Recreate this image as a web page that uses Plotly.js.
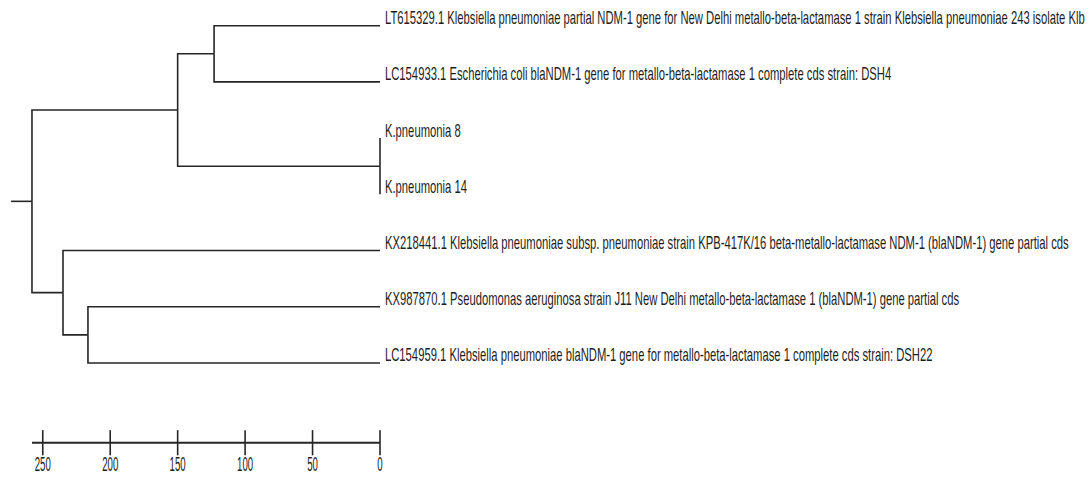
<!DOCTYPE html>
<html>
<head>
<meta charset="utf-8">
<script src="https://cdn.plot.ly/plotly-3.0.1.min.js"></script>
<style>
html,body{margin:0;padding:0;background:#fff;}
#chart{width:1089px;height:479px;}
</style>
</head>
<body>
<div id="chart"></div>
<script>
// ---- data ----
var leafNames = [
  "LT615329.1 Klebsiella pneumoniae partial NDM-1 gene for New Delhi metallo-beta-lactamase 1 strain Klebsiella pneumoniae 243 isolate Klb",
  "LC154933.1 Escherichia coli blaNDM-1 gene for metallo-beta-lactamase 1 complete cds strain: DSH4",
  "K.pneumonia 8",
  "K.pneumonia 14",
  "KX218441.1 Klebsiella pneumoniae subsp. pneumoniae strain KPB-417K/16 beta-metallo-lactamase NDM-1 (blaNDM-1) gene partial cds",
  "KX987870.1 Pseudomonas aeruginosa strain J11 New Delhi metallo-beta-lactamase 1 (blaNDM-1) gene partial cds",
  "LC154959.1 Klebsiella pneumoniae blaNDM-1 gene for metallo-beta-lactamase 1 complete cds strain: DSH22"
];
var leafHeights = [0, 0, 0, 0, 0, 0, 0];
// internal nodes; children: "L<i>" leaf or "N<i>" node
var nodeChildren = [
  ["L0", "L1"],  // N0
  ["L2", "L3"],  // N1
  ["N0", "N1"],  // N2
  ["L5", "L6"],  // N3
  ["L4", "N3"],  // N4
  ["N2", "N4"]   // N5 root
];
var nodeHeights = [123, 0, 150, 216.5, 235, 258];
var rootStubEnd = 273.5;
var scaleTicks = [250, 200, 150, 100, 50, 0];
var scaleTickLabels = ["250", "200", "150", "100", "50", "0"];
var scaleStart = 258;

// ---- build tree segments ----
function info(id) {
  var k = +id.slice(1);
  if (id[0] === "L") return {x: leafHeights[k], y: k};
  var a = info(nodeChildren[k][0]), b = info(nodeChildren[k][1]);
  return {x: nodeHeights[k], y: (a.y + b.y) / 2, a: a, b: b};
}
var segX = [], segY = [];
function draw(n) {
  if (!n.a) return;
  [n.a, n.b].forEach(function (c) {
    segX.push(n.x, n.x, c.x, null);
    segY.push(n.y, c.y, c.y, null);
    draw(c);
  });
}
var root = info("N" + (nodeChildren.length - 1));
draw(root);
segX.push(rootStubEnd, root.x, null);
segY.push(root.y, root.y, null);

var rows = leafNames.map(function (_, i) { return i; });
var scaleRow = 7.42, labelRow = 7.835;

var traces = [
  {x: segX, y: segY, mode: "lines", line: {color: "#262626", width: 1.6}, hoverinfo: "skip"},
  {x: leafHeights, y: rows, mode: "text", text: leafNames, textposition: "top right",
   textfont: {family: "Liberation Sans, Arial, sans-serif", size: 18, color: "#1e1e1e"}, hoverinfo: "skip"},
  {x: [scaleStart, 0], y: [scaleRow, scaleRow], mode: "lines", line: {color: "#262626", width: 1.8}, hoverinfo: "skip"},
  {x: scaleTicks, y: scaleTicks.map(function () { return scaleRow; }), mode: "markers",
   marker: {symbol: "line-ns", size: 18, line: {color: "#262626", width: 1.6}}, hoverinfo: "skip"},
  {x: scaleTicks, y: scaleTicks.map(function () { return labelRow; }), mode: "text", text: scaleTickLabels,
   textposition: "middle center", textfont: {family: "Liberation Sans, Arial, sans-serif", size: 21, color: "#1e1e1e"}, hoverinfo: "skip"}
];

var layout = {
  width: 1089, height: 479,
  margin: {l: 0, r: 0, t: 0, b: 0},
  paper_bgcolor: "#fff", plot_bgcolor: "#fff",
  showlegend: false,
  xaxis: {range: [281.7, -525.6], visible: false, fixedrange: true},
  yaxis: {range: [8.065, -0.457], visible: false, fixedrange: true}
};

Plotly.newPlot("chart", traces, layout, {staticPlot: true, responsive: false}).then(function (gd) {
  var groups = gd.querySelectorAll(".scatterlayer .trace");
  function squeeze(trace, sx, origin, shift) {
    trace.querySelectorAll("text").forEach(function (t) {
      t.style.transformBox = "fill-box";
      t.style.transformOrigin = origin;
      t.style.transform = "translate(" + shift + ") scaleX(" + sx + ")";
    });
  }
  squeeze(groups[1], 0.625, "left center", "5px, 3px");
  squeeze(groups[4], 0.46, "center center", "0px, 0px");
});
</script>
</body>
</html>
